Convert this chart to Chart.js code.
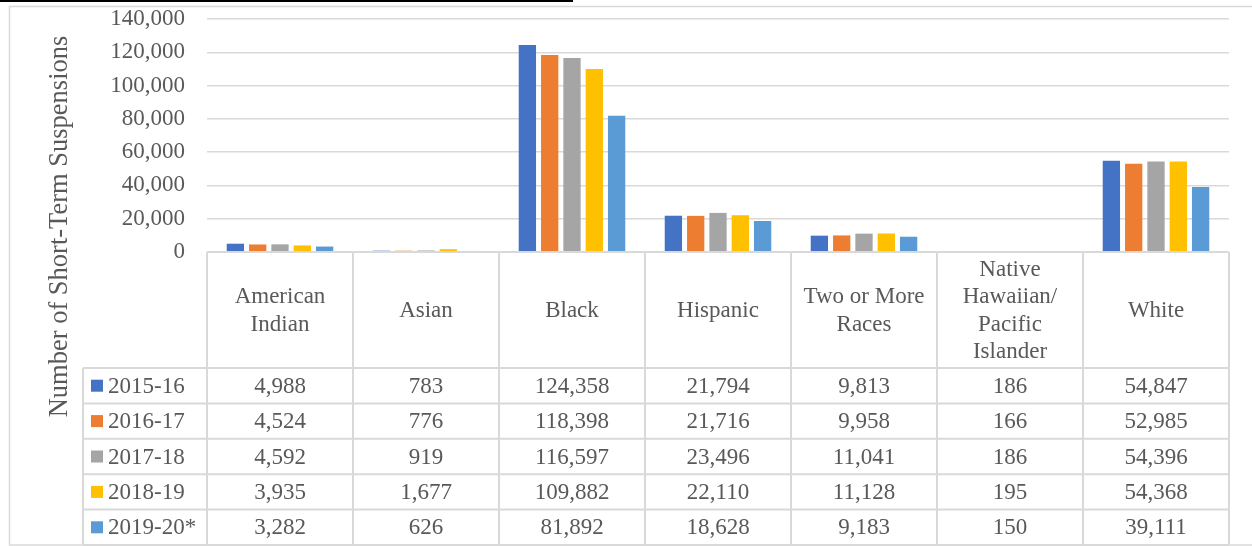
<!DOCTYPE html>
<html>
<head>
<meta charset="utf-8">
<script src="https://cdn.jsdelivr.net/npm/chart.js@4.4.1/dist/chart.umd.min.js"></script>
<style>
  html, body { margin: 0; padding: 0; background: #ffffff; }
  #wrap { position: relative; width: 1252px; height: 546px; }
</style>
</head>
<body>
<div id="wrap"><canvas id="c"></canvas></div>
<script>
// ---- data ----
const categories = ['American Indian', 'Asian', 'Black', 'Hispanic', 'Two or More Races', 'Native Hawaiian/ Pacific Islander', 'White'];
const headerLines = [['American', 'Indian'], ['Asian'], ['Black'], ['Hispanic'], ['Two or More', 'Races'], ['Native', 'Hawaiian/', 'Pacific', 'Islander'], ['White']];
const seasons = ['2015-16', '2016-17', '2017-18', '2018-19', '2019-20*'];
const y2015_16 = [4988, 783, 124358, 21794, 9813, 186, 54847];
const y2016_17 = [4524, 776, 118398, 21716, 9958, 166, 52985];
const y2017_18 = [4592, 919, 116597, 23496, 11041, 186, 54396];
const y2018_19 = [3935, 1677, 109882, 22110, 11128, 195, 54368];
const y2019_20 = [3282, 626, 81892, 18628, 9183, 150, 39111];
const seriesValues = [y2015_16, y2016_17, y2017_18, y2018_19, y2019_20];
const seriesColors = ['#4472C4', '#ED7D31', '#A5A5A5', '#FFC000', '#5B9BD5'];
const yTicks = [0, 20000, 40000, 60000, 80000, 100000, 120000, 140000];
const yTitle = 'Number of Short-Term Suspensions';

const FONT = '"Liberation Serif", "Times New Roman", serif';
const TEXT = '#595959';
const LINE = '#d9d9d9';
const fmt = v => v.toLocaleString('en-US');

const frameAndTable = {
  id: 'frameAndTable',
  beforeDraw(chart) {
    const ctx = chart.ctx;
    ctx.save();
    ctx.strokeStyle = LINE;
    ctx.lineWidth = 1.5;
    ctx.strokeRect(9.5, 6.5, 1252, 538.5);
    ctx.fillStyle = '#000000';
    ctx.fillRect(0, 0, 573, 2);
    ctx.restore();
  },
  afterDraw(chart) {
    const ctx = chart.ctx;
    const area = chart.chartArea;
    const xs = chart.scales.x;
    const n = categories.length;
    const colW = (area.right - area.left) / n;
    const top = area.bottom;
    const headerBottom = 368;
    const tableBottom = 545;
    const legendLeft = 83;
    const rowH = (tableBottom - headerBottom) / seasons.length;

    ctx.save();
    ctx.strokeStyle = LINE;
    ctx.lineWidth = 2;
    ctx.beginPath();
    ctx.moveTo(area.left, top); ctx.lineTo(area.right, top);
    for (let r = 0; r <= seasons.length; r++) {
      const y = headerBottom + r * rowH;
      ctx.moveTo(legendLeft, y); ctx.lineTo(area.right, y);
    }
    for (let i = 0; i <= n; i++) {
      const x = area.left + i * colW;
      ctx.moveTo(x, top); ctx.lineTo(x, tableBottom);
    }
    ctx.moveTo(legendLeft, headerBottom); ctx.lineTo(legendLeft, tableBottom);
    ctx.stroke();

    ctx.fillStyle = TEXT;
    ctx.font = '23px ' + FONT;
    ctx.textAlign = 'center';
    ctx.textBaseline = 'middle';
    const lh = 27.5;
    const hMid = (top + headerBottom) / 2 + 1;
    headerLines.forEach((lines, i) => {
      const cx = xs.getPixelForValue(i);
      const y0 = hMid - (lines.length - 1) * lh / 2;
      lines.forEach((t, k) => ctx.fillText(t, cx, y0 + k * lh));
    });

    seasons.forEach((s, r) => {
      const cy = headerBottom + r * rowH + rowH / 2 + 1;
      ctx.fillStyle = seriesColors[r];
      ctx.fillRect(91, cy - 7, 12, 12);
      ctx.fillStyle = TEXT;
      ctx.textAlign = 'left';
      ctx.fillText(s, 108, cy);
      ctx.textAlign = 'center';
      seriesValues[r].forEach((v, i) => {
        ctx.fillText(fmt(v), xs.getPixelForValue(i), cy);
      });
    });

    ctx.translate(67, 226.5);
    ctx.rotate(-Math.PI / 2);
    ctx.font = '26.5px ' + FONT;
    ctx.textAlign = 'center';
    ctx.textBaseline = 'alphabetic';
    ctx.fillStyle = TEXT;
    ctx.fillText(yTitle, 0, 0);
    ctx.restore();
  }
};

new Chart(document.getElementById('c'), {
  type: 'bar',
  data: {
    labels: categories,
    datasets: seasons.map((s, i) => ({
      label: s,
      data: seriesValues[i],
      backgroundColor: seriesColors[i],
      borderWidth: 0,
      categoryPercentage: 0.764,
      barPercentage: 0.776
    }))
  },
  options: {
    responsive: true,
    maintainAspectRatio: false,
    animation: false,
    layout: { padding: { left: 0, top: 19, right: 23, bottom: 294 } },
    plugins: { legend: { display: false }, tooltip: { enabled: false }, title: { display: false } },
    scales: {
      x: { display: false },
      y: {
        min: 0,
        max: 140000,
        afterFit(scale) { scale.width = 207; scale.paddingTop = 0; scale.paddingBottom = 0; },
        afterBuildTicks(scale) { scale.ticks = yTicks.map(v => ({ value: v })); },
        ticks: {
          padding: 22,
          color: TEXT,
          font: { family: FONT, size: 23 },
          callback: v => fmt(v)
        },
        grid: { color: LINE, lineWidth: 1.5, drawTicks: false },
        border: { display: false }
      }
    }
  },
  plugins: [frameAndTable]
});
</script>
</body>
</html>
